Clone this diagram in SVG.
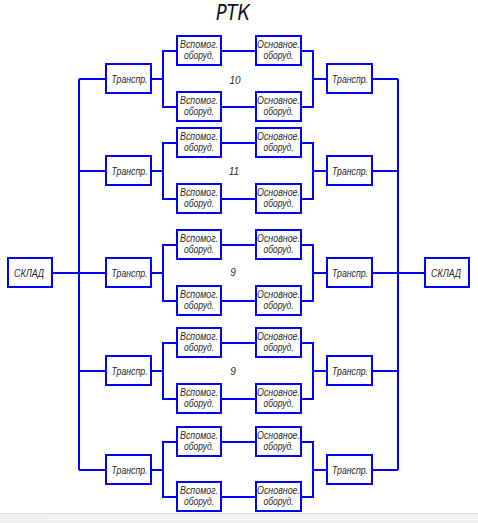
<svg xmlns="http://www.w3.org/2000/svg" width="478" height="523" viewBox="0 0 478 523">
<style>
.b{fill:#fff;stroke:#0000ff;stroke-width:2}
.c{fill:none;stroke:#0000ff;stroke-width:2;stroke-linejoin:miter}
text{font-family:"Liberation Sans",Arial,sans-serif;font-style:italic;fill:#2a2a2a;text-anchor:middle}
.t{font-size:10.5px}
.n{font-size:10px}
.title{font-family:"DejaVu Sans","Liberation Sans",sans-serif;font-weight:200;font-size:21px;fill:#111}
</style>
<rect x="0" y="0" width="478" height="523" fill="#fff"/>
<rect x="0" y="513" width="478" height="10" fill="#f0f0f0"/>
<line x1="0" y1="513.5" x2="478" y2="513.5" stroke="#dcdcdc" stroke-width="1"/>
<line x1="46" y1="519.5" x2="478" y2="519.5" stroke="#fafafa" stroke-width="1"/>

<text class="title" x="233" y="20" textLength="34" lengthAdjust="spacingAndGlyphs">РТК</text>

<g id="connectors">
<path class="c" d="M52 273H106M79 79V470"/>
<path class="c" d="M79 79H106M79 171H106M79 371H106M79 470H106"/>
<path class="c" d="M425 273H373M398 79V470"/>
<path class="c" d="M398 79H372M398 171H372M398 371H372M398 470H372"/>
<path class="c" d="M151 79H163M177 51H163V107H177M221 51H256M221 107H256M301 51H313V107H301M313 79H327"/>
<path class="c" d="M151 171H163M177 143H163V199H177M221 143H256M221 199H256M301 143H313V199H301M313 171H327"/>
<path class="c" d="M151 273H163M177 245H163V301H177M221 245H256M221 301H256M301 245H313V301H301M313 273H327"/>
<path class="c" d="M151 371H163M177 343H163V399H177M221 343H256M221 399H256M301 343H313V399H301M313 371H327"/>
<path class="c" d="M151 470H163M177 442H163V497H177M221 442H256M221 497H256M301 442H313V497H301M313 470H327"/>
</g>

<g id="sklad-left"><rect class="b" x="8" y="258" width="44" height="29"/><text class="t" x="29" y="277" textLength="30" lengthAdjust="spacingAndGlyphs">СКЛАД</text></g>
<g id="sklad-right"><rect class="b" x="425" y="258" width="44" height="29"/><text class="t" x="446" y="277" textLength="30" lengthAdjust="spacingAndGlyphs">СКЛАД</text></g>

<g id="g1">
<g id="tl1"><rect class="b" x="106" y="64" width="45" height="29"/><text class="t" x="129.5" y="83" textLength="36" lengthAdjust="spacingAndGlyphs">Транспр.</text></g>
<g id="v1a"><rect class="b" x="177" y="36" width="44" height="29"/><text class="t" x="199" y="47.5" textLength="38" lengthAdjust="spacingAndGlyphs">Вспомог.</text><text class="t" x="199" y="58.5" textLength="30" lengthAdjust="spacingAndGlyphs">оборуд.</text></g>
<g id="v1b"><rect class="b" x="177" y="92" width="44" height="29"/><text class="t" x="199" y="103.5" textLength="38" lengthAdjust="spacingAndGlyphs">Вспомог.</text><text class="t" x="199" y="114.5" textLength="30" lengthAdjust="spacingAndGlyphs">оборуд.</text></g>
<g id="o1a"><rect class="b" x="256" y="36" width="45" height="29"/><text class="t" x="278.5" y="47.5" textLength="43" lengthAdjust="spacingAndGlyphs">Основное.</text><text class="t" x="278.5" y="58.5" textLength="30" lengthAdjust="spacingAndGlyphs">оборуд.</text></g>
<g id="o1b"><rect class="b" x="256" y="92" width="45" height="29"/><text class="t" x="278.5" y="103.5" textLength="43" lengthAdjust="spacingAndGlyphs">Основное.</text><text class="t" x="278.5" y="114.5" textLength="30" lengthAdjust="spacingAndGlyphs">оборуд.</text></g>
<g id="tr1"><rect class="b" x="327" y="64" width="45" height="29"/><text class="t" x="350" y="83" textLength="36" lengthAdjust="spacingAndGlyphs">Транспр.</text></g>
<text class="n" x="235" y="84">10</text>
</g>

<g id="g2">
<g id="tl2"><rect class="b" x="106" y="156" width="45" height="29"/><text class="t" x="129.5" y="175" textLength="36" lengthAdjust="spacingAndGlyphs">Транспр.</text></g>
<g id="v2a"><rect class="b" x="177" y="128" width="44" height="29"/><text class="t" x="199" y="139.5" textLength="38" lengthAdjust="spacingAndGlyphs">Вспомог.</text><text class="t" x="199" y="150.5" textLength="30" lengthAdjust="spacingAndGlyphs">оборуд.</text></g>
<g id="v2b"><rect class="b" x="177" y="184" width="44" height="29"/><text class="t" x="199" y="195.5" textLength="38" lengthAdjust="spacingAndGlyphs">Вспомог.</text><text class="t" x="199" y="206.5" textLength="30" lengthAdjust="spacingAndGlyphs">оборуд.</text></g>
<g id="o2a"><rect class="b" x="256" y="128" width="45" height="29"/><text class="t" x="278.5" y="139.5" textLength="43" lengthAdjust="spacingAndGlyphs">Основное.</text><text class="t" x="278.5" y="150.5" textLength="30" lengthAdjust="spacingAndGlyphs">оборуд.</text></g>
<g id="o2b"><rect class="b" x="256" y="184" width="45" height="29"/><text class="t" x="278.5" y="195.5" textLength="43" lengthAdjust="spacingAndGlyphs">Основное.</text><text class="t" x="278.5" y="206.5" textLength="30" lengthAdjust="spacingAndGlyphs">оборуд.</text></g>
<g id="tr2"><rect class="b" x="327" y="156" width="45" height="29"/><text class="t" x="350" y="175" textLength="36" lengthAdjust="spacingAndGlyphs">Транспр.</text></g>
<text class="n" x="234" y="175">11</text>
</g>

<g id="g3">
<g id="tl3"><rect class="b" x="106" y="258" width="45" height="29"/><text class="t" x="129.5" y="277" textLength="36" lengthAdjust="spacingAndGlyphs">Транспр.</text></g>
<g id="v3a"><rect class="b" x="177" y="230" width="44" height="29"/><text class="t" x="199" y="241.5" textLength="38" lengthAdjust="spacingAndGlyphs">Вспомог.</text><text class="t" x="199" y="252.5" textLength="30" lengthAdjust="spacingAndGlyphs">оборуд.</text></g>
<g id="v3b"><rect class="b" x="177" y="286" width="44" height="29"/><text class="t" x="199" y="297.5" textLength="38" lengthAdjust="spacingAndGlyphs">Вспомог.</text><text class="t" x="199" y="308.5" textLength="30" lengthAdjust="spacingAndGlyphs">оборуд.</text></g>
<g id="o3a"><rect class="b" x="256" y="230" width="45" height="29"/><text class="t" x="278.5" y="241.5" textLength="43" lengthAdjust="spacingAndGlyphs">Основное.</text><text class="t" x="278.5" y="252.5" textLength="30" lengthAdjust="spacingAndGlyphs">оборуд.</text></g>
<g id="o3b"><rect class="b" x="256" y="286" width="45" height="29"/><text class="t" x="278.5" y="297.5" textLength="43" lengthAdjust="spacingAndGlyphs">Основное.</text><text class="t" x="278.5" y="308.5" textLength="30" lengthAdjust="spacingAndGlyphs">оборуд.</text></g>
<g id="tr3"><rect class="b" x="327" y="258" width="45" height="29"/><text class="t" x="350" y="277" textLength="36" lengthAdjust="spacingAndGlyphs">Транспр.</text></g>
<text class="n" x="233" y="276">9</text>
</g>

<g id="g4">
<g id="tl4"><rect class="b" x="106" y="356" width="45" height="29"/><text class="t" x="129.5" y="375" textLength="36" lengthAdjust="spacingAndGlyphs">Транспр.</text></g>
<g id="v4a"><rect class="b" x="177" y="328" width="44" height="29"/><text class="t" x="199" y="339.5" textLength="38" lengthAdjust="spacingAndGlyphs">Вспомог.</text><text class="t" x="199" y="350.5" textLength="30" lengthAdjust="spacingAndGlyphs">оборуд.</text></g>
<g id="v4b"><rect class="b" x="177" y="384" width="44" height="29"/><text class="t" x="199" y="395.5" textLength="38" lengthAdjust="spacingAndGlyphs">Вспомог.</text><text class="t" x="199" y="406.5" textLength="30" lengthAdjust="spacingAndGlyphs">оборуд.</text></g>
<g id="o4a"><rect class="b" x="256" y="328" width="45" height="29"/><text class="t" x="278.5" y="339.5" textLength="43" lengthAdjust="spacingAndGlyphs">Основное.</text><text class="t" x="278.5" y="350.5" textLength="30" lengthAdjust="spacingAndGlyphs">оборуд.</text></g>
<g id="o4b"><rect class="b" x="256" y="384" width="45" height="29"/><text class="t" x="278.5" y="395.5" textLength="43" lengthAdjust="spacingAndGlyphs">Основное.</text><text class="t" x="278.5" y="406.5" textLength="30" lengthAdjust="spacingAndGlyphs">оборуд.</text></g>
<g id="tr4"><rect class="b" x="327" y="356" width="45" height="29"/><text class="t" x="350" y="375" textLength="36" lengthAdjust="spacingAndGlyphs">Транспр.</text></g>
<text class="n" x="233" y="375">9</text>
</g>

<g id="g5">
<g id="tl5"><rect class="b" x="106" y="455" width="45" height="29"/><text class="t" x="129.5" y="474" textLength="36" lengthAdjust="spacingAndGlyphs">Транспр.</text></g>
<g id="v5a"><rect class="b" x="177" y="427" width="44" height="29"/><text class="t" x="199" y="438.5" textLength="38" lengthAdjust="spacingAndGlyphs">Вспомог.</text><text class="t" x="199" y="449.5" textLength="30" lengthAdjust="spacingAndGlyphs">оборуд.</text></g>
<g id="v5b"><rect class="b" x="177" y="482" width="44" height="29"/><text class="t" x="199" y="493.5" textLength="38" lengthAdjust="spacingAndGlyphs">Вспомог.</text><text class="t" x="199" y="504.5" textLength="30" lengthAdjust="spacingAndGlyphs">оборуд.</text></g>
<g id="o5a"><rect class="b" x="256" y="427" width="45" height="29"/><text class="t" x="278.5" y="438.5" textLength="43" lengthAdjust="spacingAndGlyphs">Основное.</text><text class="t" x="278.5" y="449.5" textLength="30" lengthAdjust="spacingAndGlyphs">оборуд.</text></g>
<g id="o5b"><rect class="b" x="256" y="482" width="45" height="29"/><text class="t" x="278.5" y="493.5" textLength="43" lengthAdjust="spacingAndGlyphs">Основное.</text><text class="t" x="278.5" y="504.5" textLength="30" lengthAdjust="spacingAndGlyphs">оборуд.</text></g>
<g id="tr5"><rect class="b" x="327" y="455" width="45" height="29"/><text class="t" x="350" y="474" textLength="36" lengthAdjust="spacingAndGlyphs">Транспр.</text></g>
</g>
</svg>
